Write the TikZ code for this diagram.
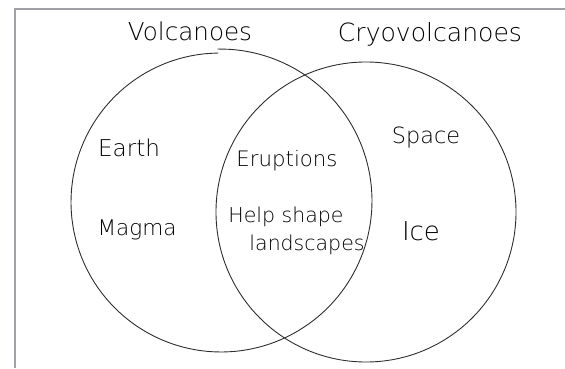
\documentclass[tikz,border=0pt]{standalone}
\usepackage{fontspec}
\setmainfont{DejaVu Sans ExtraLight}
\usepackage{graphicx}
\newcommand\hw[2]{\resizebox{#1pt}{!}{#2}}
\definecolor{framegray}{RGB}{160,160,166}
\begin{document}
\begin{tikzpicture}[x=1pt,y=1pt,
  hand/.style={draw=black!82, line width=0.9pt, line cap=round},
  lbl/.style={inner sep=0pt, text=black},
  framestyle/.style={draw=framegray, line width=2.4pt}]
\useasboundingbox (0,0) rectangle (565,368);
\draw[framestyle] (15,0) -- (15,359) -- (565,359);
% left circle (hand-drawn, ends overlapping near the top)
\draw[hand] plot[smooth, domain=0:360, samples=73]
  ({220.5+(152.5-4*\x/360)*cos(91-\x)}, {166.5+(152.5-4*\x/360)*sin(91-\x)});
% right circle
\draw[hand] (366,156) circle (150);
% titles
\node[lbl] (volc) at (190,337) {\hw{124}{Volcanoes}};
\node[lbl] (cryo) at (430,334) {\hw{184}{Cryovolcanoes}};
% left only
\node[lbl] (earth) at (129,220) {\hw{62}{Earth}};
\node[lbl] (magma) at (137,138) {\hw{79}{Magma}};
% overlap
\node[lbl] (erup) at (287,207) {\hw{101}{Eruptions}};
\node[lbl] (help) at (286,151) {\hw{115}{Help shape}};
\node[lbl] (land) at (307,123) {\hw{115}{landscapes}};
% right only
\node[lbl] (space) at (426,230) {\hw{68}{Space}};
\node[lbl, font=\fontsize{26}{30}\selectfont] (ice) at (421,137) {Ice};
\end{tikzpicture}
\end{document}
